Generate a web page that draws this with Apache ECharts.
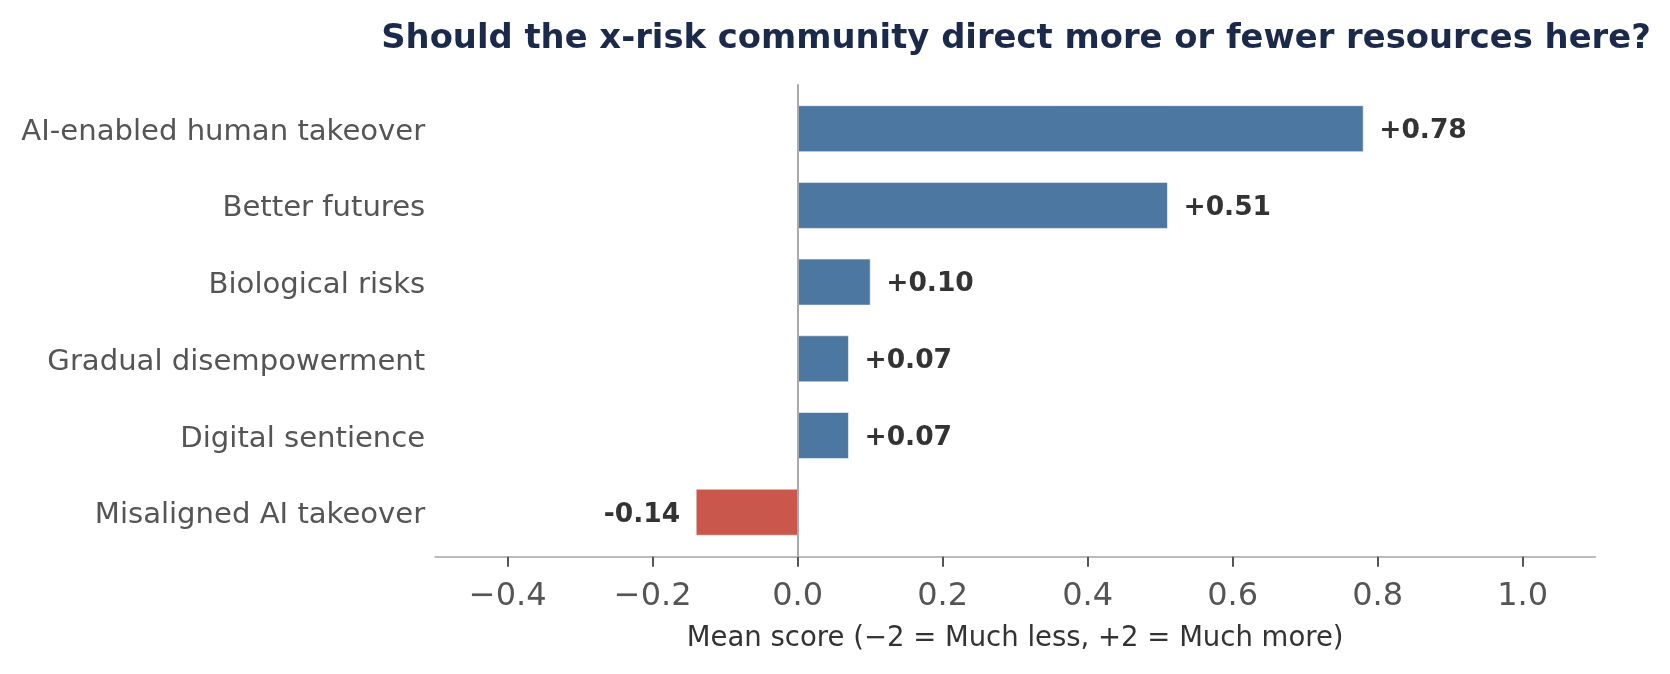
<!DOCTYPE html>
<html>
<head>
<meta charset="utf-8">
<script src="https://cdn.jsdelivr.net/npm/echarts@6/dist/echarts.min.js"></script>
<style>
html,body{margin:0;padding:0;background:#fff;}
#chart{width:1670px;height:674px;}
</style>
</head>
<body>
<div id="chart"></div>
<script>
// Data (top to bottom)
const categories = ["AI-enabled human takeover","Better futures","Biological risks","Gradual disempowerment","Digital sentience","Misaligned AI takeover"];
const meanScores = [0.78, 0.51, 0.10, 0.07, 0.07, -0.14];
const xTickValues = [-0.4, -0.2, 0.0, 0.2, 0.4, 0.6, 0.8, 1.0];
const titleText = "Should the x-risk community direct more or fewer resources here?";
const xAxisTitle = "Mean score (\u22122 = Much less, +2 = Much more)";

const FONT = "DejaVu Sans";
const POS_COLOR = "#4c77a0";
const NEG_COLOR = "#c9574b";

const seriesData = meanScores.map((v, i) => [v, i]);

const chart = echarts.init(document.getElementById('chart'), null, {renderer: 'canvas'});
chart.setOption({
  backgroundColor: '#ffffff',
  animation: false,
  title: {
    text: titleText,
    left: 1011,
    top: 17,
    textAlign: 'center',
    textStyle: {fontFamily: FONT, fontSize: 33.8, fontWeight: 'bold', color: '#1b2a4a'}
  },
  grid: {left: 435.2, right: 74.8, top: 84.2, bottom: 117.3},
  xAxis: {
    type: 'value',
    min: -0.5,
    max: 1.1,
    name: xAxisTitle,
    nameLocation: 'middle',
    nameGap: 68,
    nameTextStyle: {fontFamily: FONT, fontSize: 27.5, color: '#333333'},
    axisLine: {show: true, onZero: false, lineStyle: {color: '#bbbbbb', width: 2}},
    axisTick: {show: true, length: 10, customValues: xTickValues, lineStyle: {color: '#555555', width: 2}},
    axisLabel: {
      customValues: xTickValues,
      margin: 24,
      fontFamily: FONT, fontSize: 32, color: '#555555',
      formatter: v => (v < 0 ? '\u2212' + Math.abs(v).toFixed(1) : v.toFixed(1))
    },
    splitLine: {show: false}
  },
  yAxis: {
    type: 'value',
    inverse: true,
    min: -0.58,
    max: 5.58,
    axisLine: {show: false},
    axisTick: {show: false},
    splitLine: {show: false},
    axisLabel: {
      customValues: categories.map((c, i) => i),
      margin: 10,
      fontFamily: FONT, fontSize: 29.1, color: '#555555',
      formatter: v => '{c|' + (categories[Math.round(v)] || '') + '}',
      rich: {
        c: {fontFamily: FONT, fontSize: 29.1, color: '#555555', padding: [7, 0, 0, 0]}
      }
    }
  },
  series: [{
    type: 'custom',
    data: seriesData,
    encode: {x: 0, y: 1},
    renderItem: function (params, api) {
      const v = api.value(0), i = api.value(1);
      const p0 = api.coord([0, i]);
      const p1 = api.coord([v, i]);
      const h = api.size([0, 0.6])[1];
      const x = Math.min(p0[0], p1[0]);
      const w = Math.abs(p1[0] - p0[0]);
      const pos = v >= 0;
      return {
        type: 'group',
        children: [{
          type: 'rect',
          shape: {x: x, y: p0[1] - h / 2, width: w, height: h},
          style: {fill: pos ? POS_COLOR : NEG_COLOR, stroke: 'rgba(255,255,255,0.55)', lineWidth: 1}
        }, {
          type: 'text',
          x: p1[0] + (pos ? 16 : -16),
          y: p0[1] + 2.5,
          style: {
            text: pos ? '+' + v.toFixed(2) : v.toFixed(2),
            align: pos ? 'left' : 'right',
            verticalAlign: 'middle',
            fontFamily: FONT, fontSize: 26.5, fontWeight: 'bold', fill: '#333333'
          }
        }]
      };
    },
    markLine: {
      silent: true,
      symbol: 'none',
      label: {show: false},
      lineStyle: {color: '#aaaaaa', width: 2, type: 'solid'},
      data: [{xAxis: 0}]
    },
    z: 3
  }]
});
</script>
</body>
</html>
